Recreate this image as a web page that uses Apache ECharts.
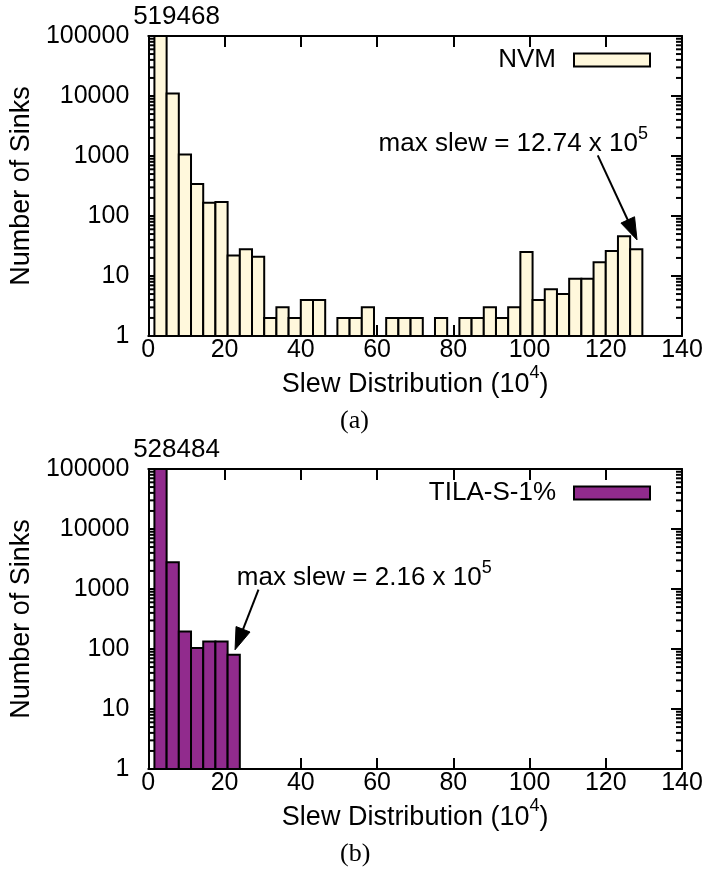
<!DOCTYPE html>
<html>
<head>
<meta charset="utf-8">
<script src="https://cdn.jsdelivr.net/npm/echarts@6/dist/echarts.min.js"></script>
<style>
  html, body { margin: 0; padding: 0; background: #fff; }
  #chart { width: 709px; height: 871px; }
</style>
</head>
<body>
<div id="chart"></div>
<script>
// Histogram bins (slew, in units of 10^4) and sink counts per bin
const BIN_WIDTH = 3.2;
const binCentersNVM = [3.2, 6.4, 9.6, 12.8, 16, 19.2, 22.4, 25.6, 28.8, 32,
  35.2, 38.4, 41.6, 44.8, 48, 51.2, 54.4, 57.6, 60.8, 64,
  67.2, 70.4, 73.6, 76.8, 80, 83.2, 86.4, 89.6, 92.8, 96,
  99.2, 102.4, 105.6, 108.8, 112, 115.2, 118.4, 121.6, 124.8, 128];
const sinksNVM = [519468, 11000, 1055, 341, 167, 171, 22, 28, 21, 2,
  3, 2, 4, 4, 0, 2, 2, 3, 0, 2,
  2, 2, 0, 2, 0, 2, 2, 3, 2, 3,
  25, 4, 6, 5, 9, 9, 17, 26, 46, 28];
const binCentersTILA = [3.2, 6.4, 9.6, 12.8, 16, 19.2, 22.4];
const sinksTILA = [528484, 2800, 196, 104, 133, 133, 80];

// Axis ticks
const xTickValues = [0, 20, 40, 60, 80, 100, 120, 140];
const yTickValues = [1, 10, 100, 1000, 10000, 100000];

// Annotations: text anchor, arrow start, arrow tip (data coordinates)
const noteText = ['max slew = 12.74 x 10', 'max slew = 2.16 x 10'];
const noteExp = ['5', '5'];
const noteAnchor = [[60.4, 1778], [23.2, 1730]];
const noteFrom = [[117.9, 1023], [28.9, 973]];
const noteTo = [[128.2, 40], [22.75, 97]];

const FONT = 'Liberation Sans';
const seriesNames = ['NVM', 'TILA-S-1%'];
const fills = ['#FFF8DC', '#912B8D'];
const captions = ['(a)', '(b)'];

// unlabelled log minor ticks: 2..9 within each decade
const minorTickValues = [];
for (let d = 0; d < yTickValues.length - 1; d++) {
  for (let m = 2; m <= 9; m++) minorTickValues.push(m * yTickValues[d]);
}

const gridTops = [36, 469];
const GRID_H = 300;

function barRenderer(fill) {
  return function (params, api) {
    const x = api.value(0), v = api.value(1);
    if (!(v > 0)) return null;
    const cs = params.coordSys;
    const tl = api.coord([x - BIN_WIDTH / 2, v]);
    const br = api.coord([x + BIN_WIDTH / 2, 1]);
    const top = Math.max(tl[1], cs.y);
    const children = [{
      type: 'rect',
      shape: { x: tl[0], y: top, width: br[0] - tl[0], height: br[1] - top },
      style: { fill: fill, stroke: '#000', lineWidth: 2 }
    }];
    if (tl[1] < cs.y) {
      children.push({
        type: 'text', x: (tl[0] + br[0]) / 2 + 16, y: cs.y - 19,
        style: { text: String(v), fill: '#000', fontSize: 26, fontFamily: FONT, align: 'center', verticalAlign: 'middle' }
      });
    }
    return { type: 'group', children: children };
  };
}

// short inward tick marks on both vertical borders
function minorTickRenderer(params, api) {
  const cs = params.coordSys;
  const y = api.coord([0, api.value(0)])[1];
  const L = 6;
  const st = { stroke: '#000', lineWidth: 2 };
  return {
    type: 'group',
    children: [
      { type: 'line', shape: { x1: cs.x, y1: y, x2: cs.x + L, y2: y }, style: st },
      { type: 'line', shape: { x1: cs.x + cs.width - L, y1: y, x2: cs.x + cs.width, y2: y }, style: st }
    ]
  };
}

function noteRenderer(idx) {
  return function (params, api) {
    const from = api.coord([api.value(0), api.value(1)]);
    const to = api.coord([api.value(2), api.value(3)]);
    const at = api.coord([api.value(4), api.value(5)]);
    const dx = to[0] - from[0], dy = to[1] - from[1];
    const len = Math.hypot(dx, dy);
    const ux = dx / len, uy = dy / len;
    const HL = 22, HW = 7.5;
    const bx = to[0] - ux * HL, by = to[1] - uy * HL;
    return {
      type: 'group',
      children: [
        { type: 'line', shape: { x1: from[0], y1: from[1], x2: bx + ux * 2, y2: by + uy * 2 }, style: { stroke: '#000', lineWidth: 2 } },
        { type: 'polygon', shape: { points: [[to[0], to[1]], [bx - uy * HW, by + ux * HW], [bx + uy * HW, by - ux * HW]] },
          style: { fill: '#000', stroke: '#000', lineWidth: 1 } },
        { type: 'text', x: at[0], y: at[1],
          style: {
            text: '{m|' + noteText[idx] + '}{sup|' + noteExp[idx] + '}',
            align: 'left', verticalAlign: 'middle', fill: '#000',
            rich: {
              m: { fontSize: 26, fontFamily: FONT, fill: '#000', lineHeight: 32, verticalAlign: 'bottom' },
              sup: { fontSize: 18, fontFamily: FONT, fill: '#000', lineHeight: 18, verticalAlign: 'top' }
            }
          } }
      ]
    };
  };
}

const grid = [], xAxis = [], yAxis = [], series = [], legend = [], title = [];

for (let g = 0; g < 2; g++) {
  grid.push({ left: 148, top: gridTops[g], width: 534, height: GRID_H });
  const tickStyle = { show: true, inside: true, length: 11, lineStyle: { color: '#000', width: 2 } };
  const lineStyle = { show: true, onZero: false, lineStyle: { color: '#000', width: 2 } };
  // bottom x axis with labels
  xAxis.push({
    gridIndex: g, type: 'value', position: 'bottom',
    min: xTickValues[0], max: xTickValues[xTickValues.length - 1], interval: 20,
    axisLine: lineStyle, axisTick: tickStyle, splitLine: { show: false },
    axisLabel: { color: '#000', fontSize: 25, fontFamily: FONT, margin: 2 },
    name: '{m|Slew Distribution (10}{sup|4}{m|)}', nameLocation: 'middle', nameGap: 24,
    nameTextStyle: {
      rich: {
        m: { fontSize: 27, fontFamily: FONT, color: '#000', lineHeight: 34, verticalAlign: 'bottom' },
        sup: { fontSize: 18, fontFamily: FONT, color: '#000', lineHeight: 18, verticalAlign: 'top' }
      }
    }
  });
  // mirrored top x axis
  xAxis.push({
    gridIndex: g, type: 'value', position: 'top',
    min: xTickValues[0], max: xTickValues[xTickValues.length - 1], interval: 20,
    axisLine: lineStyle, axisTick: tickStyle, axisLabel: { show: false }, splitLine: { show: false }
  });
  // left log axis with labels
  yAxis.push({
    gridIndex: g, type: 'log', logBase: 10, position: 'left',
    min: yTickValues[0], max: yTickValues[yTickValues.length - 1],
    axisLine: lineStyle, axisTick: tickStyle, splitLine: { show: false }, minorTick: { show: false },
    axisLabel: { color: '#000', fontSize: 25, fontFamily: FONT, margin: 19, formatter: v => String(Math.round(v)) },
    name: 'Number of Sinks', nameLocation: 'middle', nameRotate: 90, nameGap: 106,
    nameTextStyle: { fontSize: 27, fontFamily: FONT, color: '#000' }
  });
  // mirrored right log axis
  yAxis.push({
    gridIndex: g, type: 'log', logBase: 10, position: 'right',
    min: yTickValues[0], max: yTickValues[yTickValues.length - 1],
    axisLine: lineStyle, axisTick: tickStyle, axisLabel: { show: false }, splitLine: { show: false }
  });

  const xs = g === 0 ? binCentersNVM : binCentersTILA;
  const ys = g === 0 ? sinksNVM : sinksTILA;
  series.push({
    type: 'custom', name: 'minor' + g,
    xAxisIndex: g * 2, yAxisIndex: g * 2,
    encode: { y: 0 },
    renderItem: minorTickRenderer,
    data: minorTickValues.map(v => [v]),
    z: 1
  });
  series.push({
    type: 'custom', name: seriesNames[g],
    xAxisIndex: g * 2, yAxisIndex: g * 2,
    itemStyle: { color: fills[g], borderColor: '#000', borderWidth: 2 },
    renderItem: barRenderer(fills[g]),
    data: xs.map((x, i) => [x, ys[i]]),
    z: 3
  });
  series.push({
    type: 'custom', name: 'note' + g,
    xAxisIndex: g * 2, yAxisIndex: g * 2,
    renderItem: noteRenderer(g),
    data: [[noteFrom[g][0], noteFrom[g][1], noteTo[g][0], noteTo[g][1], noteAnchor[g][0], noteAnchor[g][1]]],
    z: 4
  });

  legend.push({
    data: [{ name: seriesNames[g], itemStyle: { color: fills[g], borderColor: '#000', borderWidth: 2 } }],
    right: 58, top: gridTops[g] + 11, padding: 0, align: 'right',
    icon: 'rect', itemWidth: 76, itemHeight: 13, selectedMode: false,
    textStyle: { fontSize: 26, fontFamily: FONT, color: '#000', padding: [0, 13, 0, 0] }
  });

  title.push({
    text: captions[g], left: 340, top: gridTops[g] + GRID_H + 72, padding: 0,
    textStyle: { fontSize: 26, fontFamily: 'Liberation Serif', fontWeight: 'normal', color: '#000' }
  });
}

const chart = echarts.init(document.getElementById('chart'), null, { renderer: 'canvas' });
chart.setOption({
  animation: false,
  backgroundColor: '#fff',
  title: title,
  grid: grid,
  xAxis: xAxis,
  yAxis: yAxis,
  legend: legend,
  series: series
});
</script>
</body>
</html>
